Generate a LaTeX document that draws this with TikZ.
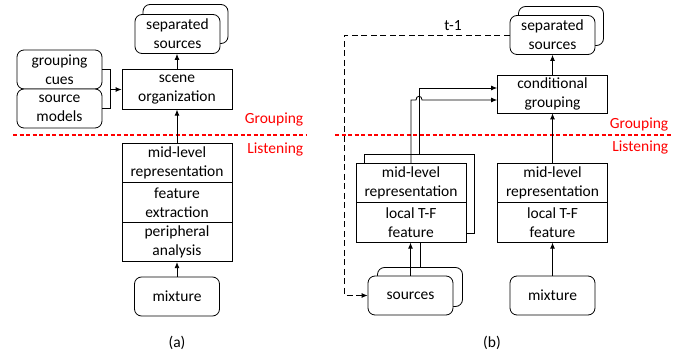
\documentclass[tikz,border=0pt]{standalone}
\usepackage{fontspec}
\setmainfont{Carlito}
\usetikzlibrary{arrows.meta,positioning}

\begin{document}
\begin{tikzpicture}[
    x=1pt, y=-1pt, line width=0.8pt,
    font=\fontsize{15.5}{19}\selectfont,
    block/.style={draw, fill=white, align=center, inner sep=0pt, minimum width=110, minimum height=39.5},
    rblock/.style={draw, fill=white, rounded corners=7pt, align=center, inner sep=0pt, minimum width=85, minimum height=39},
    backbox/.style={draw, fill=white, inner sep=0pt},
    arr/.style={-{Latex[length=6pt,width=5pt]}},
    feedback/.style={dashed, dash pattern=on 6pt off 3.5pt},
    split/.style={red, line width=1.5pt, dash pattern=on 4pt off 2.5pt},
    tag/.style={red, anchor=east}
]
\useasboundingbox (0,0) rectangle (688,355);

% (a)
\node[rblock] (sepAback) at (185.5,24) {};
\node[rblock] (sepA) at (177.5,34) {separated\\sources};
\node[block] (scene) at (177,89.5) {scene\\organization};
\node[rblock] (cues) at (59.5,69.5) {grouping\\cues};
\node[rblock] (models) at (59.5,108.5) {source\\models};

\node[block] (midA) at (177,163) {mid-level\\representation};
\node[block, below=-\pgflinewidth of midA] (featA) {feature\\extraction};
\node[block, below=-\pgflinewidth of featA] (periph) {peripheral\\analysis};
\node[rblock] (mixA) at (177,296.5) {mixture};

\draw[split] (13,135) -- (307,135);
\node[tag] (grpA) at (307,120) {Grouping};
\node[tag] (lisA) at (307,150) {Listening};

\draw (cues.east) -- ++(8,0) coordinate (brace) |- (models.east);
\draw[arr] (brace |- scene.west) -- (scene.west);
\draw[arr] (scene.north) -- (scene.north |- sepA.south);
\draw[arr] (midA.north) -- (scene.south);
\draw[arr] (mixA.north) -- (periph.south);

\node (capA) at (177,343) {(a)};

% (b)
\node[rblock] (sepBback) at (561,26) {};
\node[rblock] (sepB) at (552.5,35) {separated\\sources};
\node[block, minimum height=38] (cond) at (552.5,94) {conditional\\grouping};

\node[backbox, minimum width=110, minimum height=79] (stackback) at (419,193.5) {};
\node[block] (midL) at (411,183) {mid-level\\representation};
\node[block, below=-\pgflinewidth of midL] (featL) {local T-F\\feature};
\node[rblock] (srcBback) at (420,287) {};
\node[rblock] (srcB) at (410.5,295.5) {sources};

\node[block] (midR) at (552.5,183) {mid-level\\representation};
\node[block, below=-\pgflinewidth of midR] (featR) {local T-F\\feature};
\node[rblock] (mixB) at (552.5,295.5) {mixture};

\draw[split] (335,135) -- (672,135);
\node[tag] (grpB) at (672,125) {Grouping};
\node[tag] (lisB) at (672,148) {Listening};

\coordinate (upin) at ([yshift=6pt]cond.west);
\coordinate (lowin) at ([yshift=-6pt]cond.west);
\draw[arr] (stackback.north) |- (upin);
\draw[arr] (midL.north) -- (midL.north |- lowin)
    -- ([xshift=-3pt]stackback.north |- lowin)
    .. controls +(0,-5) and +(0,-5) .. ([xshift=3pt]stackback.north |- lowin)
    -- (lowin);
\draw[arr] (srcB.north) -- (srcB.north |- featL.south);
\draw (srcBback.north) -- (srcBback.north |- featL.south);
\draw[arr] (cond.north) -- (sepB.south);
\draw[arr] (midR.north) -- (cond.south);
\draw[arr] (mixB.north) -- (featR.south);

\draw[feedback, arr] (sepB.west) -- ++(-165,0) |- (srcB.west);
\node (delay) at (453,26) {t-1};

\node (capB) at (492,343) {(b)};
\end{tikzpicture}
\end{document}
